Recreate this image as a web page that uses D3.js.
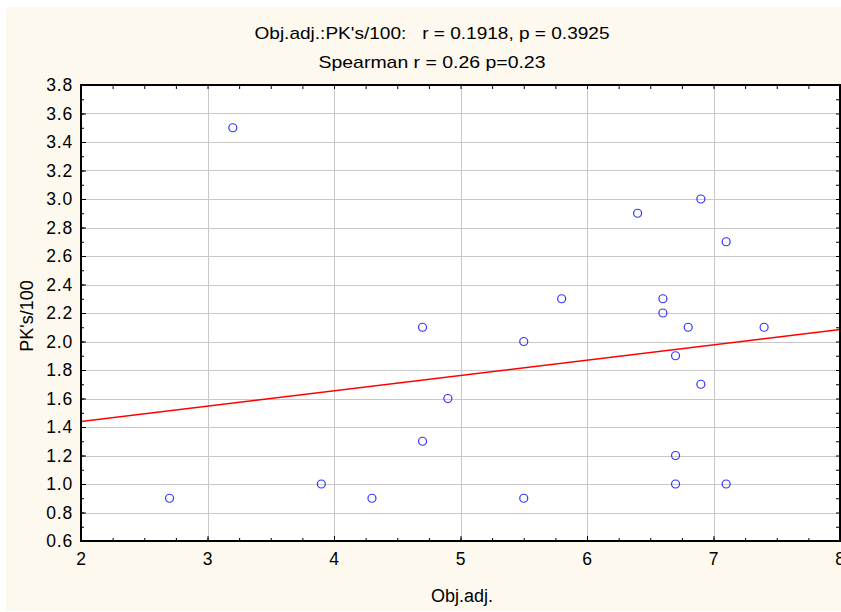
<!DOCTYPE html>
<html>
<head>
<meta charset="utf-8">
<script src="https://cdn.jsdelivr.net/npm/d3@7"></script>
<style>
  body { margin: 0; background: #fff; }
  text { font-family: "Liberation Sans", Arial, sans-serif; fill: #000; white-space: pre; }
</style>
</head>
<body>
<div id="chart"></div>
<script>
// data
const objAdj = [2.7, 3.2, 3.9, 4.3, 4.7, 4.7, 4.9, 5.5, 5.5, 5.8, 6.4, 6.6, 6.6, 6.7, 6.7, 6.7, 6.8, 6.9, 6.9, 7.1, 7.1, 7.4];
const pks    = [0.9, 3.5, 1.0, 0.9, 2.1, 1.3, 1.6, 2.0, 0.9, 2.3, 2.9, 2.3, 2.2, 1.9, 1.2, 1.0, 2.1, 3.0, 1.7, 2.7, 1.0, 2.1];
const xTicks = [2, 3, 4, 5, 6, 7, 8];
const yTicks = [0.6, 0.8, 1.0, 1.2, 1.4, 1.6, 1.8, 2.0, 2.2, 2.4, 2.6, 2.8, 3.0, 3.2, 3.4, 3.6, 3.8];
const titleLines = ["Obj.adj.:PK's/100:   r = 0.1918, p = 0.3925", "Spearman r = 0.26 p=0.23"];
const titleWidths = [355, 227];
const xLabel = "Obj.adj.";
const yLabel = "PK's/100";

const W = 841, H = 612;
const margin = {top: 85, right: 1, bottom: 71, left: 81};
const width = W - margin.left - margin.right;
const height = H - margin.top - margin.bottom;

const svg = d3.select("#chart").append("svg")
  .attr("width", W)
  .attr("height", H);

// cream background
svg.append("rect")
  .attr("x", 6).attr("y", 7)
  .attr("width", W - 6).attr("height", H - 8)
  .attr("fill", "#fdf9ef");

const g = svg.append("g")
  .attr("transform", `translate(${margin.left}, ${margin.top})`);

const x = d3.scaleLinear().domain([2, 8]).range([0, width]);
const y = d3.scaleLinear().domain([0.6, 3.8]).range([height, 0]);

g.append("rect")
  .attr("width", width).attr("height", height)
  .attr("fill", "#fff");

// grid
g.append("g").selectAll("line")
  .data(yTicks.slice(1, -1))
  .join("line")
  .attr("x1", 0).attr("x2", width)
  .attr("y1", d => Math.round(y(d)) + 0.5).attr("y2", d => Math.round(y(d)) + 0.5)
  .attr("stroke", "#c8c8c8");

g.append("g").selectAll("line")
  .data(xTicks.slice(1, -1))
  .join("line")
  .attr("y1", 0).attr("y2", height)
  .attr("x1", d => Math.round(x(d)) + 0.5).attr("x2", d => Math.round(x(d)) + 0.5)
  .attr("stroke", "#c8c8c8");

// regression line (least squares from points)
const mx = d3.mean(objAdj), my = d3.mean(pks);
const sxy = d3.sum(objAdj, (v, i) => (v - mx) * (pks[i] - my));
const sxx = d3.sum(objAdj, v => (v - mx) * (v - mx));
const slope = sxy / sxx, icpt = my - slope * mx;

g.append("line")
  .attr("x1", x(2)).attr("y1", y(icpt + slope * 2))
  .attr("x2", x(8)).attr("y2", y(icpt + slope * 8))
  .attr("stroke", "#ff0000")
  .attr("stroke-width", 1.5);

// points
g.append("g").selectAll("circle")
  .data(objAdj.map((v, i) => [v, pks[i]]))
  .join("circle")
  .attr("cx", d => x(d[0]))
  .attr("cy", d => y(d[1]))
  .attr("r", 4)
  .attr("fill", "none")
  .attr("stroke", "#3333ff")
  .attr("stroke-width", 1.2);

// axes: ticks inward on all four sides
const xMinor = d3.range(2, 8.001, 0.25);
const yMinor = d3.range(0.6, 3.8001, 0.1);

g.append("g")
  .attr("transform", `translate(0, ${height})`)
  .call(d3.axisBottom(x).tickValues(xMinor).tickSize(-3).tickFormat(""))
  .call(a => a.select(".domain").remove());
g.append("g")
  .attr("transform", `translate(0, ${height})`)
  .call(d3.axisBottom(x).tickValues(xTicks).tickSize(-5).tickPadding(12).tickFormat(d3.format("d")))
  .call(a => a.select(".domain").remove());
g.append("g")
  .call(d3.axisTop(x).tickValues(xMinor).tickSize(-4).tickFormat(""))
  .call(a => a.select(".domain").remove());

g.append("g")
  .call(d3.axisLeft(y).tickValues(yMinor).tickSize(-3).tickFormat(""))
  .call(a => a.select(".domain").remove());
g.append("g")
  .call(d3.axisLeft(y).tickValues(yTicks).tickSize(-5).tickPadding(8).tickFormat(d3.format(".1f")))
  .call(a => a.select(".domain").remove());
g.append("g")
  .attr("transform", `translate(${width}, 0)`)
  .call(d3.axisRight(y).tickValues(yMinor).tickSize(-4).tickFormat(""))
  .call(a => a.select(".domain").remove());

g.selectAll(".tick line").attr("stroke", "#000");
g.selectAll(".tick text")
  .attr("font-size", 17.5)
  .attr("letter-spacing", 0.8)
  .attr("font-family", "'Liberation Sans', Arial, sans-serif")
  .attr("fill", "#000");

// frame
g.append("rect")
  .attr("width", width).attr("height", height)
  .attr("fill", "none")
  .attr("stroke", "#000")
  .attr("stroke-width", 2);

// titles
svg.selectAll(".title")
  .data(titleLines)
  .join("text")
  .attr("class", "title")
  .attr("x", 432)
  .attr("y", (d, i) => 39 + i * 29)
  .attr("text-anchor", "middle")
  .attr("font-size", 17)
  .attr("textLength", (d, i) => titleWidths[i])
  .attr("lengthAdjust", "spacingAndGlyphs")
  .text(d => d);

svg.append("text")
  .attr("x", 462).attr("y", 602)
  .attr("text-anchor", "middle")
  .attr("font-size", 18)
  .text(xLabel);

svg.append("text")
  .attr("transform", `translate(33, 316) rotate(-90)`)
  .attr("text-anchor", "middle")
  .attr("font-size", 18)
  .text(yLabel);
</script>
</body>
</html>
